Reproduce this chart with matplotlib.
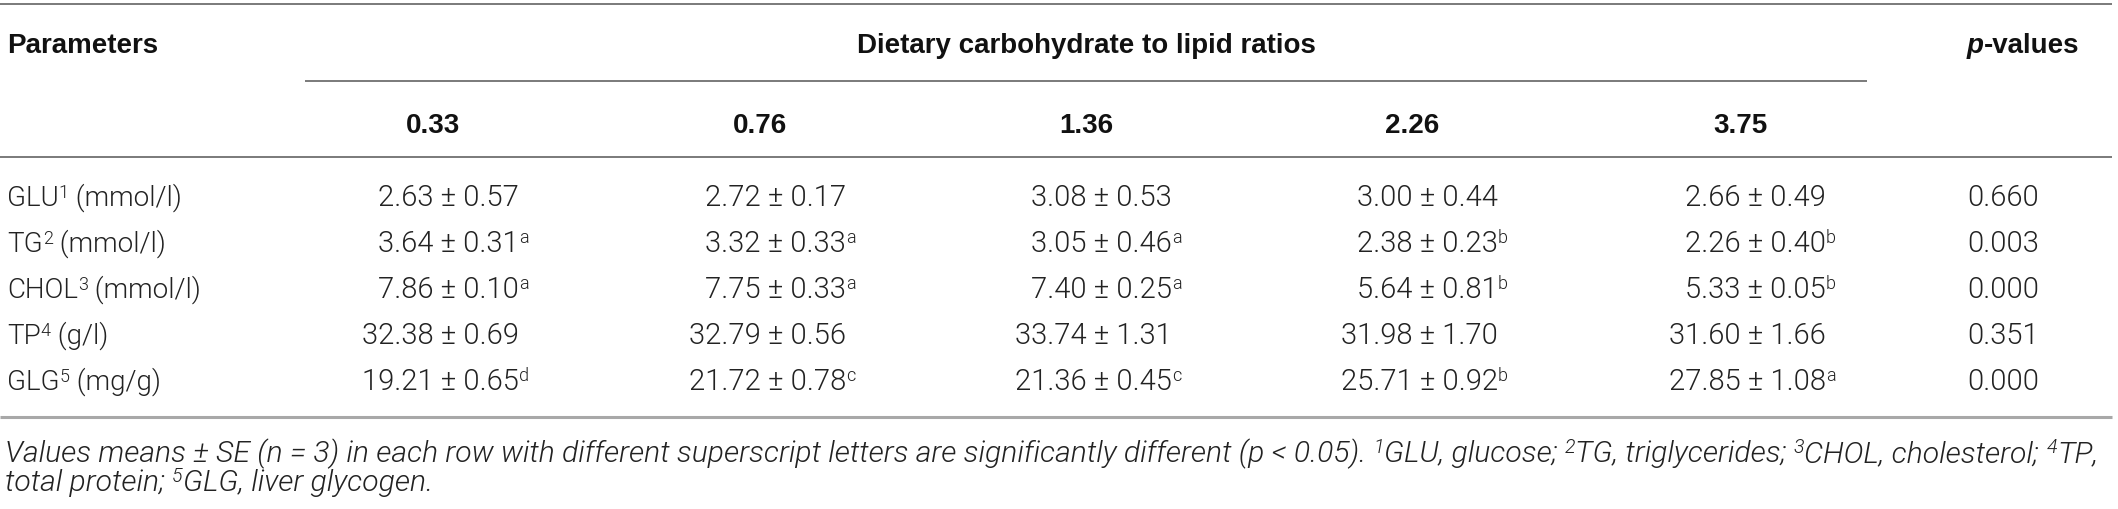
import matplotlib
matplotlib.use("Agg")
import matplotlib.pyplot as plt
from matplotlib import font_manager as fm

# ---------------- data ----------------
ratios = ["0.33", "0.76", "1.36", "2.26", "3.75"]
params = ["GLU", "TG", "CHOL", "TP", "GLG"]
param_sup = ["1", "2", "3", "4", "5"]
units = ["(mmol/l)", "(mmol/l)", "(mmol/l)", "(g/l)", "(mg/g)"]
means = [
    ["2.63", "2.72", "3.08", "3.00", "2.66"],
    ["3.64", "3.32", "3.05", "2.38", "2.26"],
    ["7.86", "7.75", "7.40", "5.64", "5.33"],
    ["32.38", "32.79", "33.74", "31.98", "31.60"],
    ["19.21", "21.72", "21.36", "25.71", "27.85"],
]
ses = [
    ["0.57", "0.17", "0.53", "0.44", "0.49"],
    ["0.31", "0.33", "0.46", "0.23", "0.40"],
    ["0.10", "0.33", "0.25", "0.81", "0.05"],
    ["0.69", "0.56", "1.31", "1.70", "1.66"],
    ["0.65", "0.78", "0.45", "0.92", "1.08"],
]
letters = [
    ["", "", "", "", ""],
    ["a", "a", "a", "b", "b"],
    ["a", "a", "a", "b", "b"],
    ["", "", "", "", ""],
    ["d", "c", "c", "b", "a"],
]
pvals = ["0.660", "0.003", "0.000", "0.351", "0.000"]
group_title = "Dietary carbohydrate to lipid ratios"
footnote_line1 = [
    ("Values means \u00b1 SE (n = 3) in each row with different superscript letters are significantly different (p < 0.05). ", False),
    ("1", True), ("GLU, glucose; ", False),
    ("2", True), ("TG, triglycerides; ", False),
    ("3", True), ("CHOL, cholesterol; ", False),
    ("4", True), ("TP,", False),
]
footnote_line2 = [
    ("total protein; ", False), ("5", True), ("GLG, liver glycogen.", False),
]

# ---------------- fonts ----------------
avail = {(f.name, f.weight) for f in fm.fontManager.ttflist}
light_family = "Liberation Sans"
light_weight = "normal"
for nm in ["Roboto", "Roboto Light", "Lato", "Open Sans"]:
    if (nm, 300) in avail:
        light_family = nm
        light_weight = 300
        break
BOLD = dict(family="Liberation Sans", weight="bold")
LIGHT = dict(family=light_family, weight=light_weight)

# ---------------- layout ----------------
W, H = 2118, 510
fig = plt.figure(figsize=(W / 100, H / 100), dpi=100)
ax = fig.add_axes([0, 0, 1, 1])
ax.set_xlim(0, W)
ax.set_ylim(H, 0)
ax.axis("off")
renderer = fig.canvas.get_renderer()

col_x = [433, 760, 1086, 1412, 1740]
p_x = 1967
label_x = 7
row_y = [196, 242, 288, 334, 380]
FS = 20
DATA_FS = 21
SUP_FS = 13
SUP_RAISE = 8
TXT_COL = "#222222"
LINE_COL = "#7a7a7a"


def width_of(t):
    return t.get_window_extent(renderer).width


def draw_segments(x, baseline, segs, fs, sup_fs, props, color):
    for s, sup in segs:
        if sup:
            t = ax.text(x, baseline - SUP_RAISE * fs / FS, s, fontsize=sup_fs, va="baseline",
                        ha="left", color=color, **props)
        else:
            t = ax.text(x, baseline, s, fontsize=fs, va="baseline", ha="left", color=color, **props)
        x += width_of(t)
    return x


def measure_segments(segs, fs, sup_fs, props):
    total = 0.0
    for s, sup in segs:
        t = ax.text(0, 0, s, fontsize=sup_fs if sup else fs, **props)
        total += width_of(t)
        t.remove()
    return total


# rules
ax.plot([0, 2112], [5, 5], color=LINE_COL, lw=1.4, solid_capstyle="butt")
ax.plot([305, 1867], [82, 82], color=LINE_COL, lw=1.4, solid_capstyle="butt")
ax.plot([0, 2112], [158, 158], color=LINE_COL, lw=1.4, solid_capstyle="butt")
ax.plot([0, 2112], [418, 418], color="#a8a8a8", lw=2.2, solid_capstyle="butt")

# headers
hb = 43 + 10
ax.text(label_x, hb, "Parameters", fontsize=FS, va="baseline", ha="left", color="#111111", **BOLD)
ax.text(1086, hb, group_title, fontsize=FS, va="baseline", ha="center", color="#111111", **BOLD)
tp = ax.text(p_x, hb, "p", fontsize=FS, va="baseline", ha="left", color="#111111",
             family="Liberation Sans", weight="bold", style="italic")
ax.text(p_x + width_of(tp), hb, "-values", fontsize=FS, va="baseline", ha="left",
        color="#111111", **BOLD)
for cx, r in zip(col_x, ratios):
    ax.text(cx, 123 + 10, r, fontsize=FS, va="baseline", ha="center", color="#111111", **BOLD)

# body rows
for i in range(len(params)):
    b = row_y[i] + 10
    draw_segments(label_x, b, [(params[i], False), (param_sup[i], True), (" " + units[i], False)],
                  FS, SUP_FS, LIGHT, TXT_COL)
    for j, cx in enumerate(col_x):
        ax.text(cx + 86, b, f"{means[i][j]} \u00b1 {ses[i][j]}", fontsize=DATA_FS, va="baseline",
                ha="right", color=TXT_COL, **LIGHT)
        if letters[i][j]:
            ax.text(cx + 86, b - SUP_RAISE - 1, letters[i][j], fontsize=SUP_FS, va="baseline",
                    ha="left", color=TXT_COL, **LIGHT)
    ax.text(p_x, b, pvals[i], fontsize=DATA_FS, va="baseline", ha="left", color=TXT_COL, **LIGHT)

# footnote: fit first line to the reference width
FOOT_PROPS = dict(LIGHT, style="italic")
fs_try = 18
w_try = measure_segments(footnote_line1, fs_try, fs_try * 0.65, FOOT_PROPS)
foot_fs = fs_try * (2098 - 5) / w_try
draw_segments(5, 453 + 9, footnote_line1, foot_fs, foot_fs * 0.65, FOOT_PROPS, TXT_COL)
draw_segments(5, 482 + 9, footnote_line2, foot_fs, foot_fs * 0.65, FOOT_PROPS, TXT_COL)

fig.savefig("out.png", dpi=100, facecolor="white")
